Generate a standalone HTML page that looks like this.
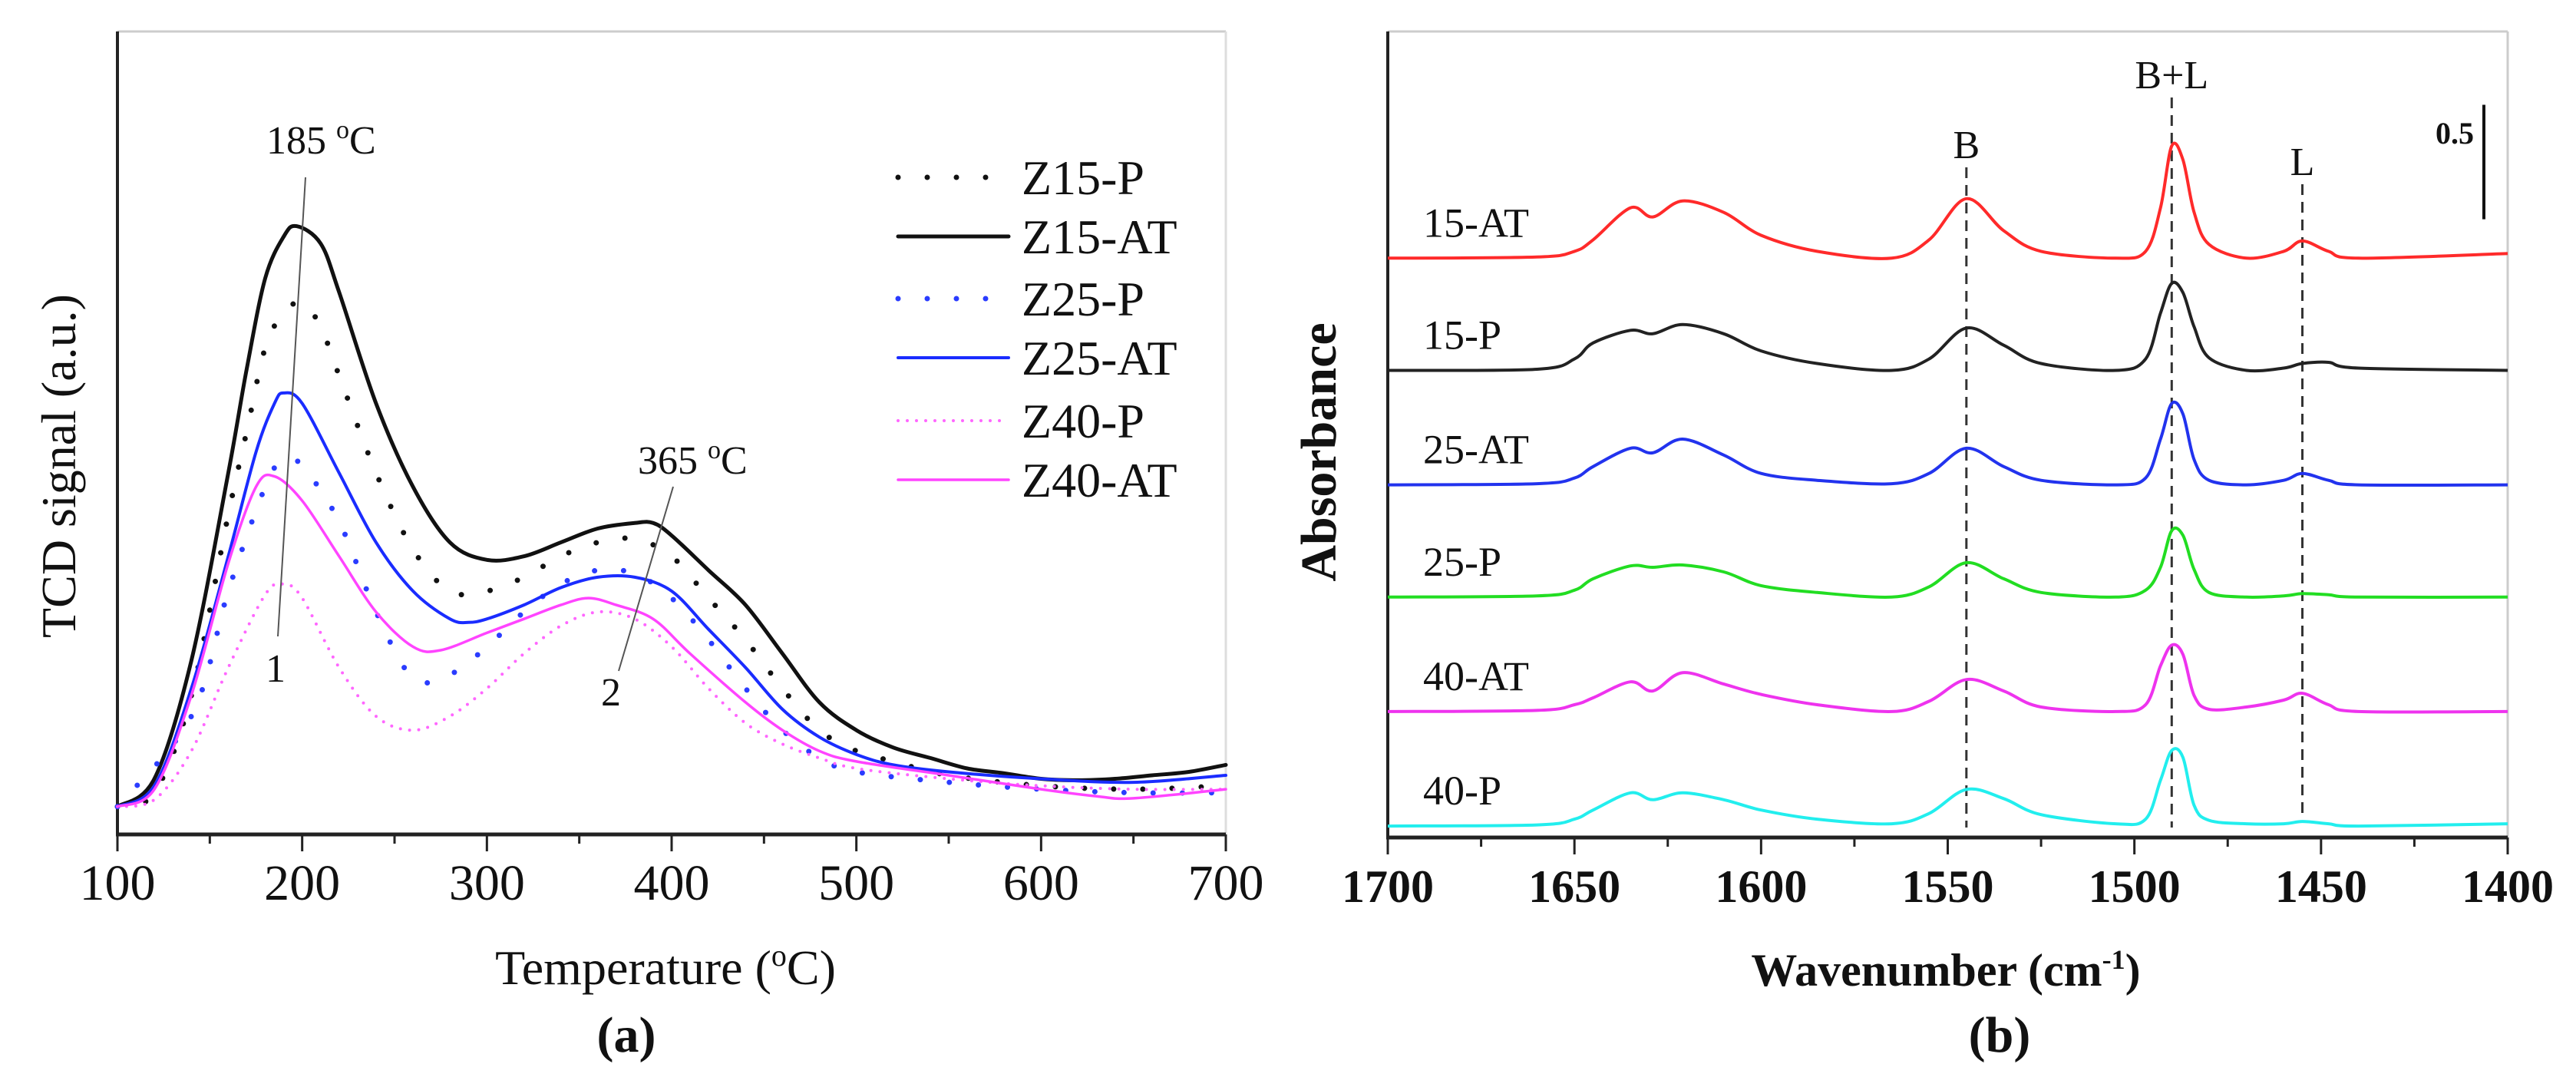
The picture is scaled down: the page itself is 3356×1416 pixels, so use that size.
<!DOCTYPE html>
<html><head><meta charset="utf-8"><style>
html,body{margin:0;padding:0;background:#fff;}
svg{display:block;}
text{font-family:"Liberation Serif",serif;fill:#111;}
</style></head><body>
<svg id="fig" width="3356" height="1416" viewBox="0 0 3356 1416" xmlns="http://www.w3.org/2000/svg">
<g id="left"></g>
<g id="right"></g>
</svg>
<script>
// ---------- Chart (a) data ----------
const tTicks = [100,200,300,400,500,600,700];
const z15atT = [100,120,140,160,170,180,190,197,210,220,240,260,280,300,320,340,360,380,390,400,420,440,460,480,500,520,540,560,580,600,620,640,660,680,700];
const z15atV = [4,8,25,52,67,80,86,87.5,85,78,62,50,42,39.5,40,42,44,44.8,44.8,43,38,33,26,19,15,12.5,11,9.5,8.8,8,7.8,8,8.5,9,10];
const z15pT = [100,120,140,160,170,180,190,200,210,220,240,260,280,300,320,340,360,380,400,420,440,460,480,500,520,550,600,650,700];
const z15pV = [4,6,20,46,58,70,75,76.5,73,66,52,41,35,35,37,40,42,42.5,40,34,28,21,15,12,10.5,8.5,7,6.5,7];
const z25atT = [100,120,140,160,175,185,190,200,220,240,260,280,290,300,320,340,360,380,400,420,440,460,480,500,520,550,600,650,700];
const z25atV = [4,7,21,40,55,62,63.5,62,52,42,35,31,30.5,31,33,35.5,37,37,35,29.5,24,18,14,11.5,10,9,8,7.5,8.5];
const z25pT = [100,140,160,180,190,200,220,240,260,280,300,320,340,360,380,400,420,440,460,480,500,550,600,650,700];
const z25pV = [4,17,35,50,54,53,45,32,22.5,23,27,32,36,38,37.5,34,28,21,15,11,9,7.5,6.5,6,6];
const z40atT = [100,120,140,160,175,185,200,220,240,260,275,300,320,340,355,370,390,410,440,460,480,500,550,600,630,650,700];
const z40atV = [4,6.5,20,39,50,51.5,48,40,32,27,26.5,29,31,33,34,33,31,26,19,15,12,10.5,8.5,6.5,5.5,5.2,6.5];
const z40pT = [100,120,140,160,180,190,200,220,240,260,280,300,320,340,360,380,400,420,440,460,480,500,550,600,650,700];
const z40pV = [4,5,12,24,34.5,36,34,24,17,15,17,21,26,30,32,31,27,21,16,13,11,9.5,8,7,6.5,6.5];
const legendNames = ["Z15-P","Z15-AT","Z25-P","Z25-AT","Z40-P","Z40-AT"];

// ---------- Chart (b) data ----------
const wnTicks = [1700,1650,1600,1550,1500,1450,1400];
const wn = [1700,1660,1650,1645,1635,1629,1621,1610,1600,1585,1565,1555,1545,1535,1525,1505,1497,1493,1490,1487,1484,1480,1470,1460,1455,1448,1440,1400];
const s15at = [0,0.005,0.03,0.08,0.22,0.18,0.25,0.2,0.10,0.03,0,0.08,0.26,0.12,0.03,0,0.03,0.22,0.49,0.43,0.2,0.06,0,0.03,0.075,0.03,0,0.02];
const s15p  = [0,0.005,0.05,0.12,0.175,0.16,0.2,0.16,0.085,0.03,0,0.05,0.185,0.11,0.03,0,0.05,0.25,0.38,0.34,0.19,0.055,0,0.01,0.03,0.035,0.01,0];
const s25at = [0,0.005,0.03,0.08,0.16,0.14,0.2,0.13,0.05,0.02,0.005,0.05,0.16,0.08,0.02,0,0.03,0.2,0.355,0.31,0.11,0.02,0,0.02,0.05,0.02,0,0];
const s25p  = [0,0.005,0.03,0.08,0.136,0.13,0.14,0.11,0.05,0.02,0,0.045,0.15,0.08,0.02,0,0.03,0.13,0.29,0.27,0.12,0.02,0,0.005,0.015,0.01,0,0];
const s40at = [0,0.005,0.03,0.06,0.13,0.09,0.17,0.12,0.075,0.03,0,0.045,0.14,0.09,0.02,0,0.03,0.2,0.29,0.25,0.07,0.01,0.02,0.05,0.08,0.03,0,0];
const s40p  = [0,0.005,0.03,0.07,0.145,0.115,0.145,0.115,0.07,0.03,0.01,0.055,0.16,0.12,0.05,0.01,0.03,0.2,0.33,0.3,0.09,0.025,0.01,0.01,0.02,0.01,0,0.01];
const specNames = ["15-AT","15-P","25-AT","25-P","40-AT","40-P"];
const specOffsets = [2.53,2.04,1.54,1.05,0.55,0.05];
const peakLines = [1545,1490,1455];
const peakLabels = ["B","B+L","L"];

const NS="http://www.w3.org/2000/svg";
function mk(parent,tag,attrs,txt){const e=document.createElementNS(NS,tag);for(const k in attrs)e.setAttribute(k,attrs[k]);if(txt!==undefined)e.textContent=txt;parent.appendChild(e);return e;}
function smooth(pts){let d="M"+pts[0][0].toFixed(1)+","+pts[0][1].toFixed(1);
 for(let i=0;i<pts.length-1;i++){const p0=pts[i-1]||pts[i],p1=pts[i],p2=pts[i+1],p3=pts[i+2]||p2;
  const c1x=p1[0]+(p2[0]-p0[0])/6,c1y=p1[1]+(p2[1]-p0[1])/6,c2x=p2[0]-(p3[0]-p1[0])/6,c2y=p2[1]-(p3[1]-p1[1])/6;
  d+=" C"+c1x.toFixed(1)+","+c1y.toFixed(1)+" "+c2x.toFixed(1)+","+c2y.toFixed(1)+" "+p2[0].toFixed(1)+","+p2[1].toFixed(1);}
 return d;}

// ===== Chart (a) =====
const L=document.getElementById('left');
const aX0=153,aX1=1597,aY0=1087,aY1=41;
const ax=t=>aX0+(t-100)/600*(aX1-aX0);
const ay=v=>aY0-v/115.5*(aY0-aY1);
let e;
e=mk(L,'line',{x1:aX0,y1:aY1,x2:aX1,y2:aY1,stroke:'#ccc','stroke-width':3});


e=mk(L,'line',{x1:aX1,y1:aY1,x2:aX1,y2:aY0,stroke:'#ddd','stroke-width':3});


e=mk(L,'line',{x1:aX0,y1:aY1,x2:aX0,y2:aY0,stroke:'#222','stroke-width':4});


e=mk(L,'line',{x1:aX0-2,y1:aY0,x2:aX1,y2:aY0,stroke:'#222','stroke-width':5});


for(let t=100;t<=700;t+=50){const maj=(t%100===0);
 e=mk(L,'line',{x1:ax(t),y1:aY0,x2:ax(t),y2:aY0+(maj?22:12),stroke:'#222','stroke-width':3});
 
 }
tTicks.forEach(t=>{e=mk(L,'text',{x:ax(t),y:1172,'font-size':66,'text-anchor':'middle'},String(t));
 
 });
e=mk(L,'text',{x:867,y:1282,'font-size':64,'text-anchor':'middle'});


e.innerHTML='Temperature (<tspan font-size="40" dy="-24">o</tspan><tspan dy="24">C)</tspan>';
e=mk(L,'text',{x:816,y:1370,'font-size':66,'font-weight':'bold','text-anchor':'middle'},'(a)');


e=mk(L,'text',{x:0,y:0,'font-size':64,'text-anchor':'middle',transform:'translate(98,607) rotate(-90)'},'TCD signal (a.u.)');



const aSeries=[
 {n:'z15-p',T:z15pT,V:z15pV,c:'#111',w:7,dash:'0 38'},
 {n:'z15-at',T:z15atT,V:z15atV,c:'#111',w:5,dash:null},
 {n:'z25-p',T:z25pT,V:z25pV,c:'#2a3cff',w:7,dash:'0 38'},
 {n:'z25-at',T:z25atT,V:z25atV,c:'#1a2cff',w:4,dash:null},
 {n:'z40-p',T:z40pT,V:z40pV,c:'#ff66ff',w:4,dash:'0 12'},
 {n:'z40-at',T:z40atT,V:z40atV,c:'#ff44ff',w:3.5,dash:null}];
aSeries.forEach(s=>{const pts=s.T.map((t,i)=>[ax(t),ay(s.V[i])]);
 const at={d:smooth(pts),fill:'none',stroke:s.c,'stroke-width':s.w,'stroke-linecap':'round','stroke-linejoin':'round'};
 if(s.dash)at['stroke-dasharray']=s.dash;
 e=mk(L,'path',at);
 
 });
// legend
const legY=[231,308,389,466,548,625];
aSeries.forEach((s,i)=>{
 const at={x1:1170,y1:legY[i],x2:1314,y2:legY[i],stroke:s.c,'stroke-width':s.w,'stroke-linecap':'round'};
 if(s.dash)at['stroke-dasharray']=s.dash;
 e=mk(L,'line',at);
 
 
 e=mk(L,'text',{x:1331,y:legY[i]+22,'font-size':64},legendNames[i]);
 
 });
// annotations
e=mk(L,'line',{x1:398,y1:231,x2:362,y2:829,stroke:'#555','stroke-width':2});


e=mk(L,'line',{x1:877,y1:634,x2:806,y2:874,stroke:'#555','stroke-width':2});


e=mk(L,'text',{x:347,y:200,'font-size':52});


e.innerHTML='185 <tspan font-size="34" dy="-20">o</tspan><tspan dy="20">C</tspan>';
e=mk(L,'text',{x:831,y:617,'font-size':52});


e.innerHTML='365 <tspan font-size="34" dy="-20">o</tspan><tspan dy="20">C</tspan>';
e=mk(L,'text',{x:359,y:888,'font-size':52,'text-anchor':'middle'},'1');


e=mk(L,'text',{x:796,y:919,'font-size':52,'text-anchor':'middle'},'2');



// ===== Chart (b) =====
const R=document.getElementById('right');
const bX0=1808,bX1=3267,bY0=1091,bY1=41;
const bx=w=>bX0+(1700-w)/300*(bX1-bX0);
const by=a=>bY0-a/3.52*(bY0-bY1);
e=mk(R,'line',{x1:bX0,y1:bY1,x2:bX1,y2:bY1,stroke:'#ccc','stroke-width':3});


e=mk(R,'line',{x1:bX1,y1:bY1,x2:bX1,y2:bY0,stroke:'#ccc','stroke-width':3});


e=mk(R,'line',{x1:bX0,y1:bY1,x2:bX0,y2:bY0,stroke:'#222','stroke-width':4});


e=mk(R,'line',{x1:bX0-2,y1:bY0,x2:bX1,y2:bY0,stroke:'#222','stroke-width':5});


for(let w=1700;w>=1400;w-=25){const maj=(w%50===0);
 e=mk(R,'line',{x1:bx(w),y1:bY0,x2:bx(w),y2:bY0+(maj?22:12),stroke:'#222','stroke-width':3});
 
 }
wnTicks.forEach(w=>{e=mk(R,'text',{x:bx(w),y:1175,'font-size':60,'font-weight':'bold','text-anchor':'middle'},String(w));
 
 });
e=mk(R,'text',{x:2535,y:1284,'font-size':60,'font-weight':'bold','text-anchor':'middle'});


e.innerHTML='Wavenumber (cm<tspan font-size="36" dy="-22">-1</tspan><tspan dy="22">)</tspan>';
e=mk(R,'text',{x:2605,y:1370,'font-size':66,'font-weight':'bold','text-anchor':'middle'},'(b)');


e=mk(R,'text',{x:0,y:0,'font-size':66,'font-weight':'bold','text-anchor':'middle',transform:'translate(1740,589) rotate(-90)'},'Absorbance');


// dashed peak lines
const lineTops=[218,127,240];
const lineBots=[1078,1078,1065];
peakLines.forEach((w,i)=>{
 e=mk(R,'line',{x1:bx(w),y1:lineTops[i],x2:bx(w),y2:lineBots[i],stroke:'#333','stroke-width':3,'stroke-dasharray':'14 9'});
 
 
 e=mk(R,'text',{x:bx(w),y:lineTops[i]-12,'font-size':52,'text-anchor':'middle'},peakLabels[i]);
 
 });
// scale bar
e=mk(R,'line',{x1:3236,y1:by(3.2),x2:3236,y2:by(2.7),stroke:'#111','stroke-width':4});


e=mk(R,'text',{x:3223,y:187,'font-size':40,'font-weight':'bold','text-anchor':'end'},'0.5');


const specData=[s15at,s15p,s25at,s25p,s40at,s40p];
const specColors=['#ff2a2a','#222','#2233ee','#22dd22','#ee33ee','#22eeee'];
specData.forEach((arr,i)=>{const pts=wn.map((w,j)=>[bx(w),by(arr[j]+specOffsets[i])]);
 e=mk(R,'path',{d:smooth(pts),fill:'none',stroke:specColors[i],'stroke-width':4,'stroke-linejoin':'round'});
 
 
 e=mk(R,'text',{x:1854,y:by(specOffsets[i])-28,'font-size':54},specNames[i]);
 
 });
</script>
</body></html>
